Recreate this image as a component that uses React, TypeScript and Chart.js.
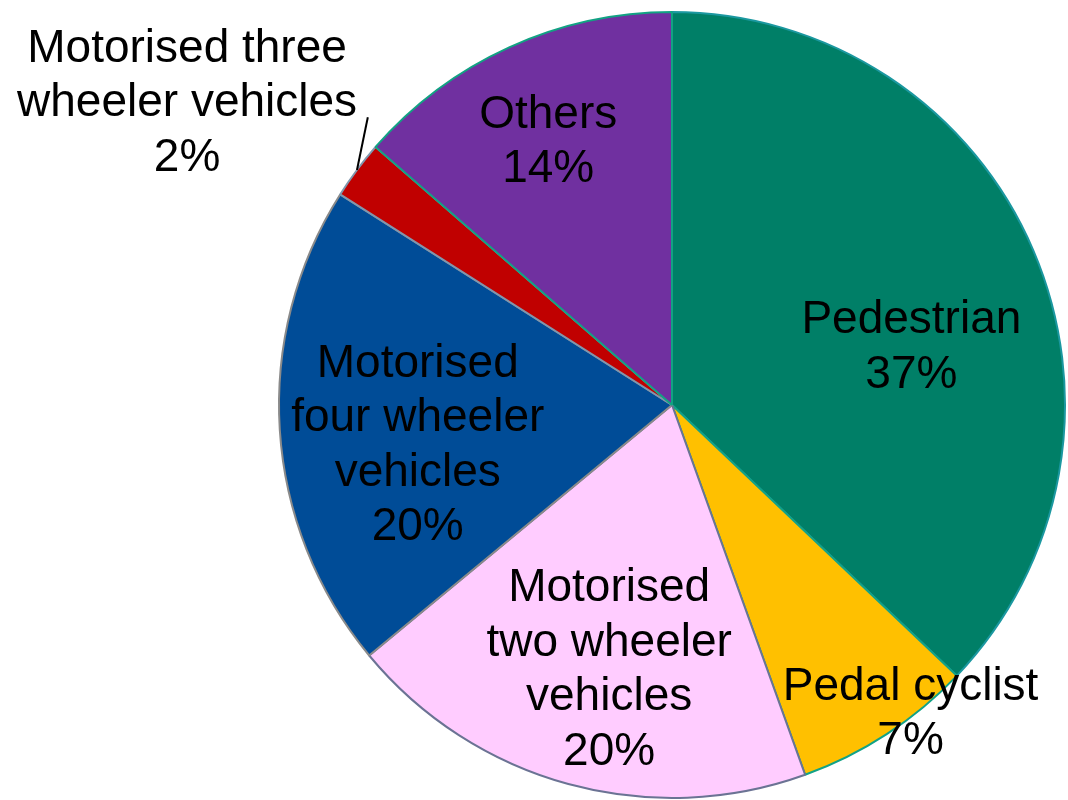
import React, { useEffect, useRef } from "react";
import { Chart, registerables } from "chart.js";

Chart.register(...registerables);

const categories = [
  ["Pedestrian"],
  ["Pedal cyclist"],
  ["Motorised", "two wheeler", "vehicles"],
  ["Motorised", "four wheeler", "vehicles"],
  ["Motorised three", "wheeler vehicles"],
  ["Others"],
];
const values = [37.1, 7.4, 19.5, 20.0, 2.4, 13.6];
const percentLabels = ["37%", "7%", "20%", "20%", "2%", "14%"];

const fillColors = ["#007F67", "#FFC000", "#FFCCFF", "#004C97", "#C00000", "#7030A0"];
const borderColors = ["#1B98A0", "#12A287", "#6B7394", "#8A8A8A", "#8097AE", "#12A283"];
// label block centers, as fractions of the radius from the pie centre
const labelOffsets: [number, number][] = [
  [0.609, -0.15],
  [0.607, 0.782],
  [-0.16, 0.67],
  [-0.647, 0.099],
  [-1.234, -0.772],
  [-0.315, -0.673],
];
const leaderLines = [false, false, false, false, true, false];

const FONT_SIZE = 46;
const LINE_H = 54.5;

const labelPlugin = {
  id: "sliceLabels",
  afterDatasetsDraw(chart: any) {
    const ctx = chart.ctx;
    const meta = chart.getDatasetMeta(0);
    ctx.save();
    ctx.font = `${FONT_SIZE}px "Liberation Sans", Arial, sans-serif`;
    ctx.fillStyle = "#000000";
    ctx.textAlign = "center";
    ctx.textBaseline = "alphabetic";
    meta.data.forEach((arc: any, i: number) => {
      const { x, y, outerRadius, startAngle, endAngle } = arc.getProps(
        ["x", "y", "outerRadius", "startAngle", "endAngle"],
        true
      );
      const lines = [...categories[i], percentLabels[i]];
      const cx = x + labelOffsets[i][0] * outerRadius;
      const cy = y + labelOffsets[i][1] * outerRadius;
      const top = cy - ((lines.length - 1) * LINE_H) / 2;
      lines.forEach((t, k) => {
        ctx.fillText(t, cx, top + k * LINE_H + 14.5);
      });
      if (leaderLines[i]) {
        const mid = (startAngle + endAngle) / 2;
        const ex = x + Math.cos(mid) * outerRadius;
        const ey = y + Math.sin(mid) * outerRadius;
        const sx = cx + 0.46 * outerRadius;
        const sy = cy + 0.04 * outerRadius;
        ctx.beginPath();
        ctx.strokeStyle = "#000000";
        ctx.lineWidth = 2;
        ctx.moveTo(sx, sy);
        ctx.lineTo(ex, ey);
        ctx.stroke();
      }
    });
    ctx.restore();
  },
};

export default function App() {
  const ref = useRef<HTMLCanvasElement | null>(null);
  useEffect(() => {
    if (!ref.current) return;
    const chart = new Chart(ref.current, {
      type: "pie",
      data: {
        labels: categories.map((c) => c.join(" ")),
        datasets: [
          {
            data: values,
            backgroundColor: fillColors,
            borderColor: borderColors,
            borderWidth: 2,
          },
        ],
      },
      options: {
        responsive: false,
        animation: false,
        devicePixelRatio: 1,
        layout: { padding: { left: 278, right: 2, top: 10, bottom: 0 } },
        plugins: {
          legend: { display: false },
          title: { display: false },
          tooltip: { enabled: false },
        },
      },
      plugins: [labelPlugin],
    });
    return () => chart.destroy();
  }, []);
  return (
    <div style={{ position: "fixed", left: 0, top: 0, width: 1068, height: 800, background: "#fff" }}>
      <canvas ref={ref} width={1068} height={800} style={{ width: 1068, height: 800 }} />
    </div>
  );
}
